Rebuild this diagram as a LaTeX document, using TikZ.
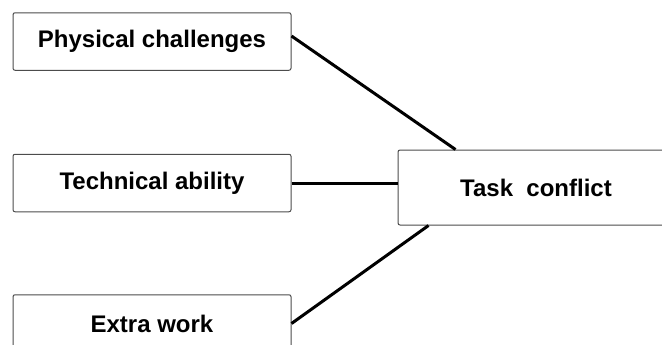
\documentclass[tikz,border=0pt]{standalone}
\usepackage{fontspec}
\setmainfont{Liberation Sans}
\usepackage{tikz}
\usetikzlibrary{positioning}

\begin{document}
\begin{tikzpicture}[
    node distance=41.5pt and 53pt,
    factor/.style={rectangle, draw=black!70, line width=0.5pt, fill=white, rounded corners=1pt, minimum width=139pt, minimum height=28.75pt, font=\fontsize{12}{14}\selectfont\bfseries},
    outcome/.style={factor, minimum width=138pt, minimum height=37.5pt},
    link/.style={line width=1.5pt, black}
]
\useasboundingbox (0,0) rectangle (331pt,-172pt);

% Left Column: factors
\node[factor] (phys) at (76pt,-20.75pt) {Physical challenges};
\node[factor, below=of phys] (tech) {Technical ability};
\node[factor, below=41pt of tech] (extra) {Extra work};

% Right: outcome
\node[outcome, right=of tech, yshift=-2.25pt] (task) {Task\ \ conflict};

% Connections
\draw[link] ([yshift=2.75pt]phys.east) -- ([xshift=29pt]task.north west);
\draw[link] (tech.east) -- (tech.east -| task.west);
\draw[link] (extra.east) -- ([xshift=15.5pt]task.south west);

\end{tikzpicture}
\end{document}
